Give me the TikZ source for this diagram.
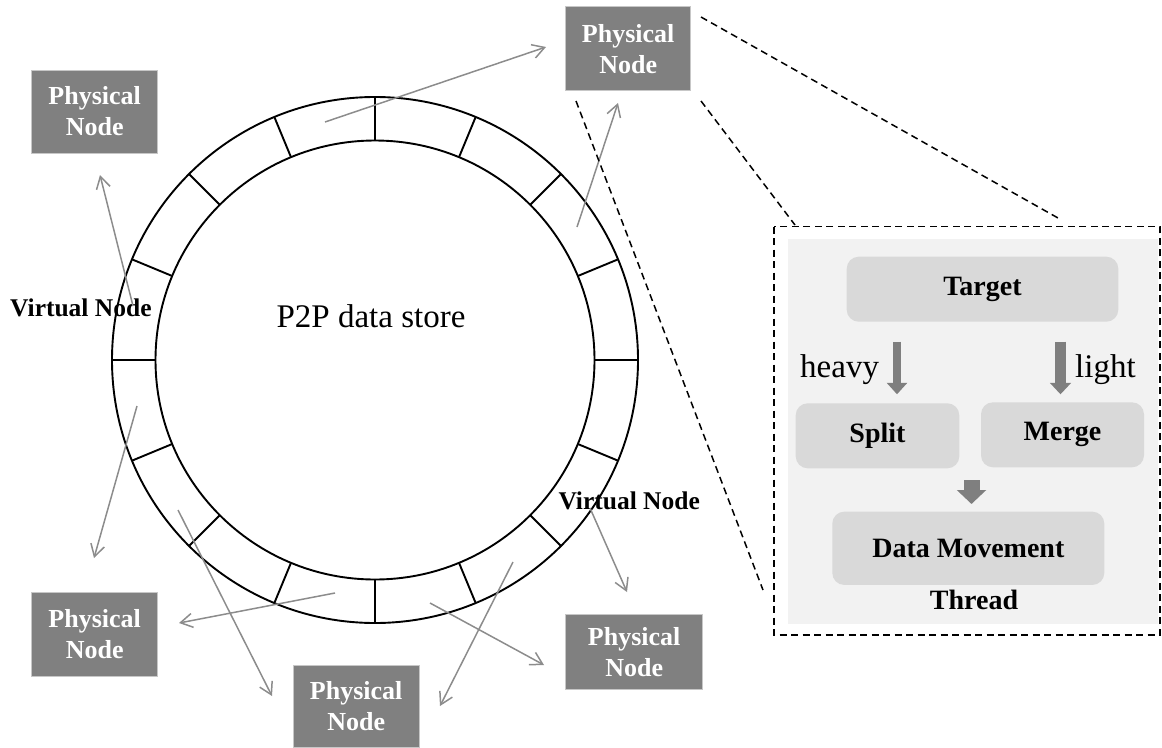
\documentclass[tikz,border=0pt]{standalone}
\usepackage{fontspec}
\setmainfont{Liberation Serif}
\usetikzlibrary{arrows.meta}
\definecolor{pgray}{HTML}{808080}
\definecolor{agray}{HTML}{8C8C8C}
\definecolor{panelg}{HTML}{F2F2F2}
\definecolor{boxg}{HTML}{D9D9D9}
\definecolor{barrow}{HTML}{7F7F7F}
\begin{document}
\begin{tikzpicture}[x=1pt,y=-1pt,
  phys/.style={fill=pgray, draw=black!22, line width=0.8pt, text=white,
    font=\fontsize{26}{31}\selectfont\bfseries, align=center, inner sep=0pt},
  link/.style={draw=agray, line width=1.5pt, -{Straight Barb[length=12pt,width=14pt]}},
  zoomline/.style={black, line width=1.5pt, dash pattern=on 7pt off 4.5pt},
  ringline/.style={black, line width=1.9pt},
  rbox/.style={fill=boxg, rounded corners=12pt, inner sep=0pt,
    font=\fontsize{28}{34}\selectfont\bfseries},
  blockarrow/.style={color=barrow},
  vlabel/.style={font=\fontsize{25.5}{31}\selectfont\bfseries, inner sep=0pt, anchor=base west},
  wlabel/.style={font=\fontsize{33}{40}\selectfont, inner sep=0pt, anchor=base west},
]
\path[use as bounding box] (0,0) rectangle (1162,747);

% ring
\coordinate (c) at (375,360);
\draw[ringline] (c) circle[radius=263pt];
\draw[ringline] (c) circle[radius=219.5pt];
\foreach \a in {0,22.5,...,337.5}
  \draw[ringline] (c) ++(\a:219.5pt) -- ++(\a:43.5pt);
\node[font=\fontsize{33}{40}\selectfont, inner sep=0pt, anchor=base] (p2p) at (371,327) {P2P data store};

% labels
\node[vlabel] (vl1) at (10,316) {Virtual Node};
\node[vlabel] (vl2) at (558.3,509.3) {Virtual Node};

% physical nodes
\node[phys, minimum width=126pt, minimum height=83pt] (pn1) at (94.7,111.5) {Physical\\Node};
\node[phys, minimum width=125pt, minimum height=84pt] (pn2) at (628.2,48.7) {Physical\\Node};
\node[phys, minimum width=126pt, minimum height=84pt] (pn3) at (94.7,634) {Physical\\Node};
\node[phys, minimum width=125.7pt, minimum height=82pt] (pn4) at (356.2,706.5) {Physical\\Node};
\node[phys, minimum width=137pt, minimum height=75.3pt] (pn5) at (634.2,651.7) {Physical\\Node};

% virtual node points and arrow ends
\coordinate (va) at (325,122);  \coordinate (ea) at (546,47);
\coordinate (vb) at (577,227);  \coordinate (eb) at (618,103);
\coordinate (vc) at (133,306);  \coordinate (ec) at (100,175);
\coordinate (vd) at (137,406);  \coordinate (ed) at (94,558);
\coordinate (ve) at (335,593);  \coordinate (ee) at (179,623);
\coordinate (vf) at (178,510);  \coordinate (ef) at (272,696);
\coordinate (vg) at (513,562);  \coordinate (eg) at (440,706);
\coordinate (vh) at (430,603);  \coordinate (eh) at (544,665);
\coordinate (vi) at (590,508);  \coordinate (ei) at (627,592);
\foreach \k in {a,b,c,d,e,f,g,h,i}
  \draw[link] (v\k) -- (e\k);

% zoom lines and frame
\fill[panelg] (788,239) rectangle (1158,624);
\draw[zoomline] (774,226.7) rectangle (1160,635);
\coordinate (z1s) at (701,17);  \coordinate (z1e) at (1058,218);
\coordinate (z2s) at (701,101); \coordinate (z2e) at (795,225);
\coordinate (z3s) at (576,101); \coordinate (z3e) at (763,590);
\draw[zoomline] (z1s) -- (z1e);
\draw[zoomline] (z2s) -- (z2e);
\draw[zoomline] (z3s) -- (z3e);

% panel content
\node[rbox, minimum width=271.6pt, minimum height=65pt] (target) at (982.5,289.2) {Target};
\node[rbox, minimum width=163.6pt, minimum height=65pt] (split) at (877.5,435.8) {Split};
\node[rbox, minimum width=163pt, minimum height=65pt] (merge) at (1062.5,434.8) {Merge};
\node[rbox, minimum width=272pt, minimum height=73.3pt] (dm) at (968.3,548.3) {Data Movement};
\node[font=\fontsize{28}{34}\selectfont\bfseries, inner sep=0pt, anchor=base] (thread) at (974,609.3) {Thread};

\coordinate (h1) at (897,341.7); \coordinate (h2) at (897,394.3);
\coordinate (l1) at (1060.5,341.7); \coordinate (l2) at (1060.5,394.3);
\coordinate (m1) at (971.5,480); \coordinate (m2) at (971.5,504);
\draw[blockarrow, line width=8.6pt, -{Triangle[length=11.5pt,width=20pt]}] (h1) -- (h2);
\draw[blockarrow, line width=11pt, -{Triangle[length=11.5pt,width=20.7pt]}] (l1) -- (l2);
\draw[blockarrow, line width=16pt, -{Triangle[length=14pt,width=28.7pt]}] (m1) -- (m2);
\node[wlabel] (heavy) at (800,377.3) {heavy};
\node[wlabel] (light) at (1075,377.3) {light};
\end{tikzpicture}
\end{document}
